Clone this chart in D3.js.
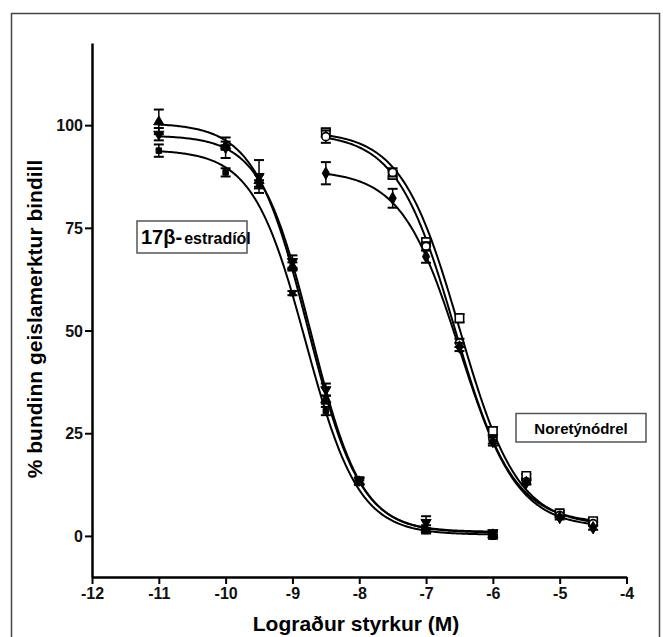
<!DOCTYPE html>
<html><head><meta charset="utf-8">
<script src="https://cdn.jsdelivr.net/npm/d3@7"></script>
<style>body{margin:0;background:#fff;} svg{display:block;font-family:"Liberation Sans",Arial,sans-serif;}</style>
</head><body>
<script>
// ---- data ----
const xTicks = [-12,-11,-10,-9,-8,-7,-6,-5,-4];
const yTicks = [0,25,50,75,100];
const estrX = [-11,-10,-9.5,-9,-8.5,-8,-7,-6];
const estrUp = [100.8,95,86.5,65.6,33.2,13.2,1.6,0.3];
const estrUpErr = [3,1,1.5,1,1,0.8,1,0.5];
const estrDown = [97.8,94.5,87.5,66.8,35.6,13.5,3.3,0.8];
const estrDownErr = [1.5,2.5,4,1.5,1.5,0.8,1.5,0.5];
const estrSq = [93.8,88.5,85.6,59.1,30.4,13,1.2,-0.2];
const estrSqErr = [1.5,1,1,0.5,1,0.5,0.5,0.5];
const noreX = [-8.5,-7.5,-7,-6.5,-6,-5.5,-5,-4.5];
const noreSq = [98.2,87.9,71.5,53,25.5,14.6,5.5,3.6];
const noreSqErr = [1,1,1,1,1,0.5,0.5,0.5];
const noreCirc = [97.2,88.5,70.5,47,23.5,13.2,5,3];
const noreCircErr = [1.5,1,1,1,1,0.5,0.5,0.5];
const noreDia = [88.3,82.2,68,46,23,13,4.5,2];
const noreDiaErr = [2.7,2.3,1.5,1,1,0.5,0.5,0.5];
// fitted sigmoid parameters: [top, bottom, logIC50, hill]
const fitEstrUp = [100.5,0.8,-8.77,1.1];
const fitEstrDown = [97.5,1,-8.72,1.15];
const fitEstrSq = [94,0.3,-8.8,1.1];
const fitNoreSq = [98.5,2.5,-6.5,1.0];
const fitNoreCirc = [98,3,-6.57,1.0];
const fitNoreDia = [89,2,-6.5,1.0];

const W=663,H=637;
const svg=d3.select("body").append("svg").attr("width",W).attr("height",H);
svg.append("rect").attr("x",11.5).attr("y",13.5).attr("width",648).attr("height",640)
  .attr("fill","none").attr("stroke","#444").attr("stroke-width",1.5);

const x=d3.scaleLinear().domain([-12,-4]).range([92,626.5]);
const y=d3.scaleLinear().domain([-10,120]).range([577,43]);

const fmt=d=>String(d).replace("\u2212","-");
const gx=svg.append("g").attr("transform","translate(0,577)")
  .call(d3.axisBottom(x).tickValues(xTicks).tickFormat(fmt).tickSize(7).tickSizeOuter(0).tickPadding(4));
const gy=svg.append("g").attr("transform","translate(92,0)")
  .call(d3.axisLeft(y).tickValues(yTicks).tickFormat(fmt).tickSize(7).tickSizeOuter(0).tickPadding(2));
[gx,gy].forEach(g=>{
  g.attr("font-size",null).attr("font-family",null);
  g.select(".domain").attr("stroke","#000").attr("stroke-width",2.5);
  g.selectAll(".tick line").attr("stroke","#000").attr("stroke-width",2);
  g.selectAll(".tick text").style("font-size","16px").style("font-weight","700")
    .style("font-family","'Liberation Sans', Arial, sans-serif").attr("fill","#111");
});
gy.selectAll(".tick text").attr("dy","0.35em");

svg.append("text").attr("x",356).attr("y",631).attr("text-anchor","middle")
  .attr("font-size",21).attr("font-weight","bold").text("Lograður styrkur (M)");
svg.append("text").attr("transform","translate(42,319) rotate(-90)").attr("text-anchor","middle")
  .attr("font-size",21).attr("font-weight","bold").text("% bundinn geislamerktur bindill");

// curves
function sig(p,v){return p[1]+(p[0]-p[1])/(1+Math.pow(10,(v-p[2])*p[3]));}
const line=d3.line().x(d=>x(d[0])).y(d=>y(d[1]));
function curve(p,x0,x1){
  const xs=d3.range(x0,x1+1e-9,0.02);
  svg.append("path").attr("d",line(xs.map(v=>[v,sig(p,v)])))
    .attr("fill","none").attr("stroke","#000").attr("stroke-width",2);
}
curve(fitEstrUp,-11,-6);curve(fitEstrDown,-11,-6);curve(fitEstrSq,-11,-6);
curve(fitNoreSq,-8.5,-4.5);curve(fitNoreCirc,-8.5,-4.5);curve(fitNoreDia,-8.5,-4.5);

// error bars + markers
function series(xs,vals,errs,sym,size,filled,rot){
  const g=svg.append("g");
  xs.forEach((xv,i)=>{
    const cx=x(xv),t=y(vals[i]+errs[i]),b=y(vals[i]-errs[i]);
    g.append("line").attr("x1",cx).attr("x2",cx).attr("y1",t).attr("y2",b).attr("stroke","#000").attr("stroke-width",1.5);
    [t,b].forEach(yy=>g.append("line").attr("x1",cx-5).attr("x2",cx+5).attr("y1",yy).attr("y2",yy).attr("stroke","#000").attr("stroke-width",2));
    g.append("path").attr("d",d3.symbol().type(sym).size(size)())
      .attr("transform",`translate(${cx},${y(vals[i])})`+(rot?" rotate(180)":""))
      .attr("fill",filled?"#000":"#fff").attr("stroke","#000").attr("stroke-width",filled?1:1.6);
  });
}
series(estrX,estrUp,estrUpErr,d3.symbolTriangle,45,true,false);
series(estrX,estrDown,estrDownErr,d3.symbolTriangle,45,true,true);
series(estrX,estrSq,estrSqErr,d3.symbolSquare,30,true,false);
series(noreX,noreSq,noreSqErr,d3.symbolSquare,70,false,false);
series(noreX,noreCirc,noreCircErr,d3.symbolCircle,50,false,false);
series(noreX,noreDia,noreDiaErr,d3.symbolDiamond,45,true,false);

// label boxes
svg.append("rect").attr("x",137).attr("y",221).attr("width",110).attr("height",32)
  .attr("fill","#fff").attr("stroke","#555").attr("stroke-width",1.5);
const t1=svg.append("text").attr("x",141).attr("y",244).attr("font-weight","bold");
t1.append("tspan").attr("font-size",20).text("17β-");
t1.append("tspan").attr("font-size",16).attr("dx",2).text("estradíól");
svg.append("rect").attr("x",516).attr("y",413.5).attr("width",130).attr("height",28.5)
  .attr("fill","#fff").attr("stroke","#555").attr("stroke-width",1.5);
svg.append("text").attr("x",581).attr("y",433.5).attr("text-anchor","middle").attr("font-size",15)
  .attr("font-weight","bold").text("Noretýnódrel");
</script>
</body></html>
